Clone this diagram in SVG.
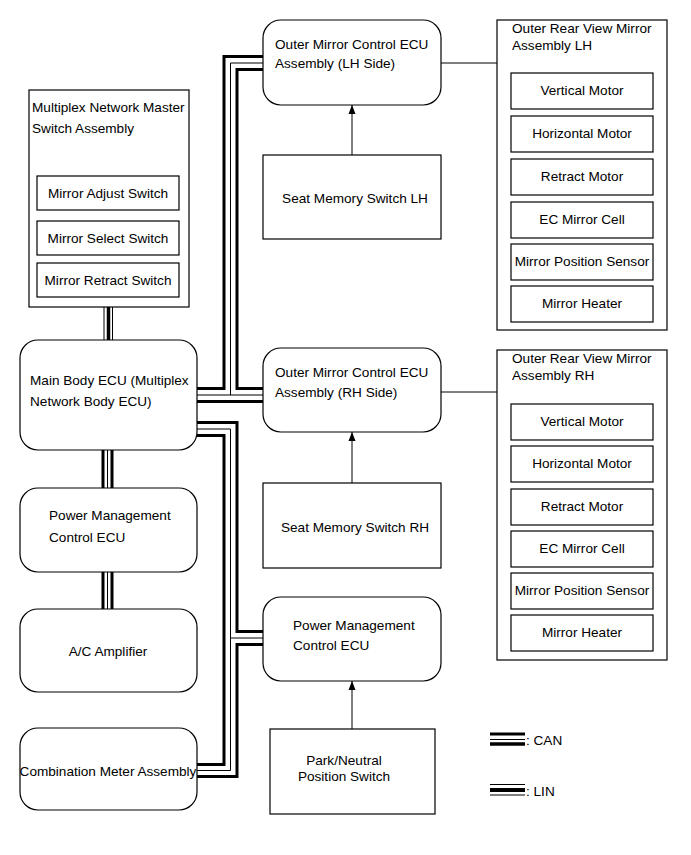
<svg xmlns="http://www.w3.org/2000/svg" width="691" height="855" viewBox="0 0 691 855">
<defs>
<style>
.box{fill:#fff;stroke:#000;stroke-width:1.2}
.t{font-family:"Liberation Sans",Arial,sans-serif;font-size:13.6px;fill:#000}
.c{text-anchor:middle}
.thick{fill:none;stroke:#000;stroke-width:3;stroke-linejoin:miter}
.thin{fill:none;stroke:#000;stroke-width:1}
.ln{fill:none;stroke:#000;stroke-width:1}
</style>
<marker id="ah" markerWidth="10" markerHeight="10" refX="9" refY="5" orient="auto" markerUnits="userSpaceOnUse">
<path d="M0,1.5 L9,5 L0,8.5 Z" fill="#000"/>
</marker>
</defs>
<rect width="691" height="855" fill="#fff"/>

<g id="connectors">
<!-- LIN: switch to main body -->
<line class="thin" x1="104" y1="307" x2="104" y2="340"/>
<line class="thick" x1="108.5" y1="307" x2="108.5" y2="340" style="stroke-width:3.5"/>
<line class="thin" x1="112.5" y1="307" x2="112.5" y2="340"/>
<!-- CAN: main body to PM ECU -->
<line class="thick" x1="103" y1="450" x2="103" y2="488"/>
<line class="thin" x1="107.5" y1="450" x2="107.5" y2="488"/>
<line class="thick" x1="112" y1="450" x2="112" y2="488"/>
<!-- CAN: PM ECU to A/C -->
<line class="thick" x1="103" y1="572" x2="103" y2="609"/>
<line class="thin" x1="107.5" y1="572" x2="107.5" y2="609"/>
<line class="thick" x1="112" y1="572" x2="112" y2="609"/>

<!-- Bus to LH ECU and RH ECU -->
<polyline class="thick" points="263,56.5 224,56.5 224,388.5 197,388.5"/>
<polyline class="thin" points="263,63 230.5,63 230.5,395"/>
<polyline class="thick" points="263,69.5 237,69.5 237,388.5 263,388.5"/>
<line class="thin" x1="197" y1="395" x2="263" y2="395"/>
<line class="thick" x1="197" y1="401.5" x2="263" y2="401.5"/>

<!-- Bus to PM ECU (middle) and Combination Meter -->
<polyline class="thick" points="197,422.5 237,422.5 237,631.5 263,631.5"/>
<polyline class="thin" points="197,429 230.5,429 230.5,770.5 197,770.5"/>
<line class="thin" x1="230.5" y1="638" x2="263" y2="638"/>
<polyline class="thick" points="197,435.5 224,435.5 224,764.5 197,764.5"/>
<polyline class="thick" points="263,644.5 237,644.5 237,776.5 197,776.5"/>

<!-- arrows -->
<line class="ln" x1="352" y1="155" x2="352" y2="105" marker-end="url(#ah)"/>
<line class="ln" x1="352" y1="483" x2="352" y2="432" marker-end="url(#ah)"/>
<line class="ln" x1="352" y1="729" x2="352" y2="681" marker-end="url(#ah)"/>
<!-- plain lines -->
<line class="ln" x1="441" y1="63" x2="497" y2="63"/>
<line class="ln" x1="441" y1="392" x2="497" y2="392"/>

<!-- legend -->
<line class="thick" x1="490" y1="734" x2="525" y2="734"/>
<line class="thin" x1="490" y1="739.5" x2="525" y2="739.5"/>
<line class="thick" x1="490" y1="744" x2="525" y2="744" style="stroke-width:3.5"/>
<line class="thin" x1="490" y1="784.5" x2="525" y2="784.5"/>
<line class="thick" x1="490" y1="790" x2="525" y2="790" style="stroke-width:4"/>
<line class="thin" x1="490" y1="795" x2="525" y2="795"/>
</g>
<text class="t" x="526" y="745">: CAN</text>
<text class="t" x="526" y="796">: LIN</text>

<g id="master-switch">
<rect class="box" x="29" y="90" width="160" height="217"/>
<text class="t" x="32" y="112">Multiplex Network Master</text>
<text class="t" x="32" y="133">Switch Assembly</text>
<rect class="box" x="37" y="176" width="142" height="34"/>
<text class="t c" x="108" y="198">Mirror Adjust Switch</text>
<rect class="box" x="37" y="221" width="142" height="34"/>
<text class="t c" x="108" y="243">Mirror Select Switch</text>
<rect class="box" x="37" y="263" width="142" height="34"/>
<text class="t c" x="108" y="285">Mirror Retract Switch</text>
</g>

<g id="main-body-ecu">
<rect class="box" x="20" y="340" width="177" height="110" rx="18"/>
<text class="t" x="30" y="385">Main Body ECU (Multiplex</text>
<text class="t" x="30" y="406">Network Body ECU)</text>
</g>

<g id="pm-ecu-left">
<rect class="box" x="20" y="488" width="177" height="84" rx="18"/>
<text class="t" x="49" y="520">Power Management</text>
<text class="t" x="49" y="542">Control ECU</text>
</g>

<g id="ac-amp">
<rect class="box" x="20" y="609" width="177" height="83" rx="18"/>
<text class="t c" x="108" y="656">A/C Amplifier</text>
</g>

<g id="comb-meter">
<rect class="box" x="20" y="728" width="177" height="82" rx="18"/>
<text class="t c" x="108" y="776">Combination Meter Assembly</text>
</g>

<g id="lh-ecu">
<rect class="box" x="263" y="20" width="178" height="85" rx="18"/>
<text class="t" x="275" y="49">Outer Mirror Control ECU</text>
<text class="t" x="275" y="68">Assembly (LH Side)</text>
</g>

<g id="seat-lh">
<rect class="box" x="263" y="155" width="178" height="84"/>
<text class="t c" x="355" y="203">Seat Memory Switch LH</text>
</g>

<g id="rh-ecu">
<rect class="box" x="263" y="348" width="178" height="84" rx="18"/>
<text class="t" x="275" y="377">Outer Mirror Control ECU</text>
<text class="t" x="275" y="397">Assembly (RH Side)</text>
</g>

<g id="seat-rh">
<rect class="box" x="263" y="483" width="178" height="85"/>
<text class="t c" x="355" y="532">Seat Memory Switch RH</text>
</g>

<g id="pm-ecu-mid">
<rect class="box" x="263" y="597" width="178" height="84" rx="18"/>
<text class="t" x="293" y="630">Power Management</text>
<text class="t" x="293" y="650">Control ECU</text>
</g>

<g id="park-neutral">
<rect class="box" x="270" y="729" width="165" height="85"/>
<text class="t c" x="344" y="765">Park/Neutral</text>
<text class="t c" x="344" y="781">Position Switch</text>
</g>

<g id="mirror-lh">
<rect class="box" x="497" y="20" width="170" height="310"/>
<text class="t" x="512" y="33">Outer Rear View Mirror</text>
<text class="t" x="512" y="50">Assembly LH</text>
<rect class="box" x="511" y="73" width="142" height="36"/>
<text class="t c" x="582" y="95">Vertical Motor</text>
<rect class="box" x="511" y="116" width="142" height="36"/>
<text class="t c" x="582" y="138">Horizontal Motor</text>
<rect class="box" x="511" y="159" width="142" height="36"/>
<text class="t c" x="582" y="181">Retract Motor</text>
<rect class="box" x="511" y="202" width="142" height="36"/>
<text class="t c" x="582" y="224">EC Mirror Cell</text>
<rect class="box" x="511" y="244" width="142" height="36"/>
<text class="t c" x="582" y="266">Mirror Position Sensor</text>
<rect class="box" x="511" y="286" width="142" height="36"/>
<text class="t c" x="582" y="308">Mirror Heater</text>
</g>

<g id="mirror-rh">
<rect class="box" x="497" y="350" width="170" height="310"/>
<text class="t" x="512" y="363">Outer Rear View Mirror</text>
<text class="t" x="512" y="380">Assembly RH</text>
<rect class="box" x="511" y="404" width="142" height="36"/>
<text class="t c" x="582" y="426">Vertical Motor</text>
<rect class="box" x="511" y="446" width="142" height="36"/>
<text class="t c" x="582" y="468">Horizontal Motor</text>
<rect class="box" x="511" y="489" width="142" height="36"/>
<text class="t c" x="582" y="511">Retract Motor</text>
<rect class="box" x="511" y="531" width="142" height="36"/>
<text class="t c" x="582" y="553">EC Mirror Cell</text>
<rect class="box" x="511" y="573" width="142" height="36"/>
<text class="t c" x="582" y="595">Mirror Position Sensor</text>
<rect class="box" x="511" y="615" width="142" height="36"/>
<text class="t c" x="582" y="637">Mirror Heater</text>
</g>
</svg>
